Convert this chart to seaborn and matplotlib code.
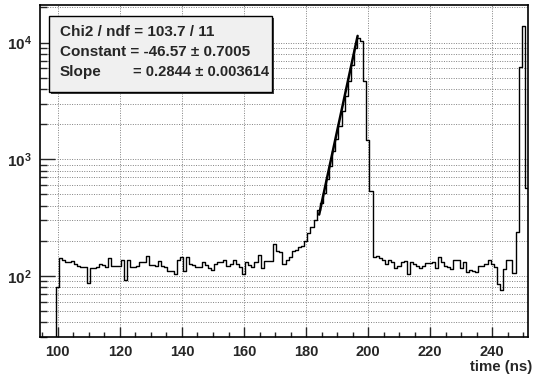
import numpy as np
import pandas as pd
import matplotlib
matplotlib.use('Agg')
import matplotlib.pyplot as plt
import seaborn as sns
from matplotlib.ticker import MultipleLocator, LogLocator, FixedLocator, NullFormatter, FuncFormatter
from matplotlib.patches import Rectangle

# histogram contents (1 ns bins), first bin starts at x_lo
counts = [0, 0, 0, 0, 0, 80,
          143, 138, 131, 131, 134, 127, 122, 120, 120, 87,
          117, 117, 119, 127, 124, 120, 143, 122, 122, 122,
          136, 93, 136, 120, 120, 122, 131, 131, 147, 124,
          124, 122, 134, 122, 120, 110, 110, 104, 136, 145,
          110, 145, 127, 124, 119, 120, 131, 124, 117, 113,
          127, 131, 131, 136, 122, 127, 136, 127, 120, 104,
          133, 124, 120, 131, 151, 117, 134, 134, 134, 188,
          165, 160, 127, 137, 145, 165, 168, 176, 180, 198,
          232, 262, 303, 366, 426, 519, 675, 877, 1178, 1483,
          1928, 2588, 3476, 4670, 6486, 9010, 10970, 10260, 4670, 1452,
          530, 146, 149, 143, 138, 127, 136, 131, 117, 121,
          131, 134, 104, 131, 127, 122, 117, 122, 128, 128,
          131, 117, 145, 131, 121, 119, 115, 136, 136, 116,
          133, 108, 113, 111, 108, 122, 122, 127, 136, 127,
          119, 85, 76, 115, 138, 138, 106, 236, 6200, 13800,
          565]
x_lo, x_hi = 94.25, 251.5
y_lo, y_hi = 30, 21000

# expo fit shown in the stats box
fit_const, fit_slope = -46.57, 0.2844
fit_range = (184.2, 196.6)
stat_lines = ["Chi2 / ndf = 103.7 / 11", "Constant = -46.57 \u00b1 0.7005"]
slope_name = "Slope"
slope_text = "= 0.2844 \u00b1 0.003614"

sns.set_style('ticks')
plt.rcParams['font.family'] = ['Liberation Sans', 'DejaVu Sans']
plt.rcParams['font.weight'] = 'bold'
plt.rcParams['mathtext.fontset'] = 'custom'
plt.rcParams['mathtext.rm'] = 'Liberation Sans:bold'
plt.rcParams['mathtext.bf'] = 'Liberation Sans:bold'

W, H = 533, 377
fig = plt.figure(figsize=(W / 100, H / 100), dpi=100)
ax = fig.add_axes([40 / W, 1 - 337 / H, 488 / W, 332 / H])

edges = np.linspace(x_lo, x_hi, len(counts) + 1).tolist()
df = pd.DataFrame({'t': [(a + b) / 2 for a, b in zip(edges[:-1], edges[1:])], 'n': counts})
sns.histplot(data=df, x='t', weights='n', bins=edges, element='step', fill=False,
             color='black', linewidth=1.0, ax=ax)

tf = np.linspace(fit_range[0], fit_range[1], 40)
fit_df = pd.DataFrame({'t': tf, 'f': np.exp(fit_const + fit_slope * tf)})
sns.lineplot(data=fit_df, x='t', y='f', color='black', linewidth=1.8, ax=ax)

ax.set_yscale('log')
ax.set_xlim(x_lo, x_hi)
ax.set_ylim(y_lo, y_hi)

ax.xaxis.set_major_locator(MultipleLocator(20))
ax.xaxis.set_minor_locator(MultipleLocator(5))
ax.yaxis.set_major_locator(FixedLocator([1e2, 1e3, 1e4]))
ax.yaxis.set_major_formatter(FuncFormatter(lambda v, p: r'$\mathbf{10^{%d}}$' % round(np.log10(v))))
ax.yaxis.set_minor_locator(LogLocator(base=10, subs=range(2, 10), numticks=20))
ax.yaxis.set_minor_formatter(NullFormatter())

ax.grid(True, which='major', axis='x', ls=(0, (1, 1.5)), color='0.5', lw=0.7)
ax.grid(True, which='both', axis='y', ls=(0, (1, 1.5)), color='0.5', lw=0.7)
ax.tick_params(axis='x', which='major', direction='in', length=7, width=1, pad=6, labelsize=10.5)
ax.tick_params(axis='x', which='minor', direction='in', length=3.5, width=1)
ax.tick_params(axis='y', which='major', direction='in', length=11, width=1, pad=6, labelsize=11)
ax.tick_params(axis='y', which='minor', direction='in', length=5, width=1)
for s in ax.spines.values():
    s.set_visible(True)
    s.set_color('black')
    s.set_linewidth(1.2)
ax.set_xlabel('')
ax.set_ylabel('')

fig.text(532 / W, 1 - 367 / H, 'time (ns)', ha='right', va='center', fontsize=10.8, fontweight='bold')

# stats box
bx0, bx1, by0, by1 = 49, 272, 16, 92
fig.patches.append(Rectangle((bx0 / W + 2 / W, 1 - by1 / H - 2 / H), (bx1 - bx0) / W, (by1 - by0) / H,
                             transform=fig.transFigure, facecolor='0.25', edgecolor='none', zorder=5))
fig.patches.append(Rectangle((bx0 / W, 1 - by1 / H), (bx1 - bx0) / W, (by1 - by0) / H,
                             transform=fig.transFigure, facecolor='#f0f0f0', edgecolor='black',
                             lw=1.0, zorder=6))
for i, line in enumerate(stat_lines):
    fig.text(60 / W, 1 - (32 + 20 * i) / H, line, ha='left', va='center', fontsize=11,
             fontweight='bold', zorder=7)
fig.text(60 / W, 1 - 72 / H, slope_name, ha='left', va='center', fontsize=11, fontweight='bold', zorder=7)
fig.text(269 / W, 1 - 72 / H, slope_text, ha='right', va='center', fontsize=10.6, fontweight='bold', zorder=7)

fig.savefig('out.png', dpi=100)
